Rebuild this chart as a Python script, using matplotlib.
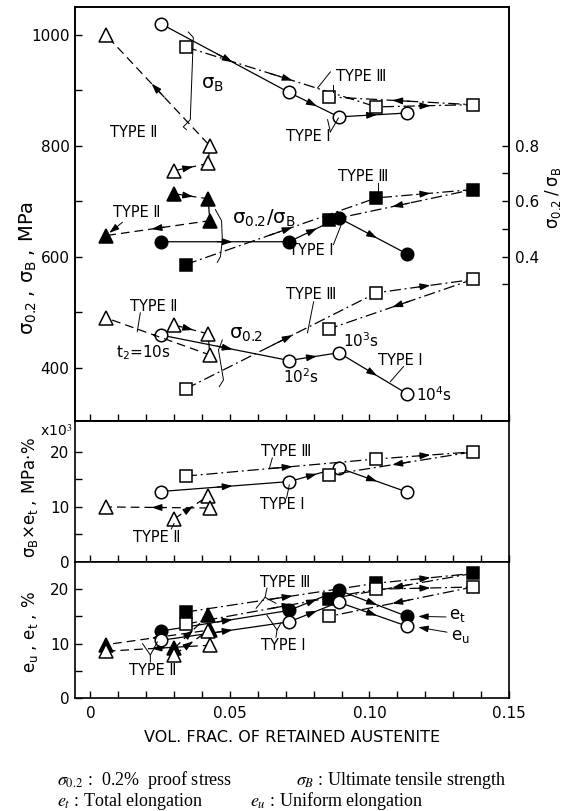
import numpy as np
import matplotlib
matplotlib.use('Agg')
import matplotlib.pyplot as plt

plt.rcParams['font.family'] = ['DejaVu Sans']
plt.rcParams['mathtext.fontset'] = 'stix'

# vol. frac. of retained austenite, points in order of holding time t2 = 10, 1e2, 1e3, 1e4 s
x_type1 = [0.0252, 0.0712, 0.0890, 0.1135]
x_type2 = [0.0300, 0.0422, 0.0428, 0.0055]
x_type3 = [0.0342, 0.1025, 0.1370, 0.0855]

# ultimate tensile strength, MPa
sb_type1 = [1020, 896, 852, 859]
sb_type2 = [755, 768, 800, 1000]
sb_type3 = [978, 870, 874, 888]

# 0.2% proof stress, MPa
s02_type1 = [459, 413, 427, 353]
s02_type2 = [477, 461, 423, 490]
s02_type3 = [362, 535, 559, 470]

# yield ratio
ratio_type1 = [0.454, 0.454, 0.54, 0.41]
ratio_type2 = [0.627, 0.609, 0.53, 0.476]
ratio_type3 = [0.372, 0.612, 0.642, 0.532]

# sigma_B x e_t, x10^3 MPa.%
sbet_type1 = [12.8, 14.6, 17.1, 12.7]
sbet_type2 = [7.8, 12.0, 9.8, 10.0]
sbet_type3 = [15.6, 18.7, 20.0, 15.8]

# total / uniform elongation, %
et_type1 = [12.3, 16.1, 19.8, 15.0]
et_type2 = [9.1, 15.2, 12.5, 9.8]
et_type3 = [15.8, 21.1, 22.9, 18.2]
eu_type1 = [10.6, 14.0, 17.6, 13.2]
eu_type2 = [7.9, 12.4, 9.7, 8.6]
eu_type3 = [13.6, 20.0, 20.4, 15.0]

ls1 = '-'
ls2 = (0, (7, 4))
ls3 = (0, (9, 3, 1.5, 3))

fig = plt.figure(figsize=(5.65, 8.11), dpi=100)
L, W = 75 / 565, 434 / 565
ax1 = fig.add_axes([L, 1 - 421 / 811, W, 414 / 811])
ax2 = fig.add_axes([L, 1 - 562 / 811, W, 141 / 811])
ax3 = fig.add_axes([L, 1 - 698 / 811, W, 136 / 811])

ylo, yhi = 304, 1050
ax1.set_ylim(ylo, yhi)
ax2.set_ylim(0, 25.6)
ax3.set_ylim(0, 25)
ax1r = ax1.twinx()
ax1r.set_ylim(0.4 + (ylo - 600) / 500, 0.4 + (yhi - 600) / 500)

for ax in (ax1, ax2, ax3, ax1r):
    ax.set_xlim(-0.0055, 0.15)
    for s in ax.spines.values():
        s.set_linewidth(1.2)
    ax.tick_params(direction='in', length=5, width=1, labelsize=11, pad=4)

for ax in (ax1, ax2, ax3):
    ax.set_xticks(np.arange(0, 0.151, 0.01))
    ax.tick_params(axis='x', labelbottom=False, top=False)
ax3.tick_params(axis='x', labelbottom=True, pad=6)
ax3.set_xticklabels(['0', '', '', '', '', '0.05', '', '', '', '', '0.10', '', '', '', '', '0.15'])

ax1.set_yticks(np.arange(400, 1001, 100))
ax1.set_yticklabels(['400', '', '600', '', '800', '', '1000'])
ax1r.set_yticks(np.arange(0.3, 0.81, 0.1))
ax1r.set_yticklabels(['', '0.4', '', '0.6', '', '0.8'])
for ax in (ax2, ax3):
    ax.set_yticks([0, 5, 10, 15, 20])
    ax.set_yticklabels(['0', '', '10', '', '20'])


def series(ax, x, y, ls, marker, filled, ms=9):
    ax.plot(x, y, ls=ls, color='k', lw=0.9, marker=marker, ms=ms,
            mfc='k' if filled else 'white', mec='k', mew=1.1, zorder=3)
    tr = ax.transData
    for i in range(len(x) - 1):
        p0 = np.array([x[i], y[i]])
        p1 = np.array([x[i + 1], y[i + 1]])
        d = tr.transform(p1) - tr.transform(p0)
        if np.hypot(*d) < 30:
            continue
        ax.annotate('', xy=p0 + 0.56 * (p1 - p0), xytext=p0 + 0.44 * (p1 - p0),
                    arrowprops=dict(arrowstyle='-|>,head_length=0.6,head_width=0.2',
                                    color='k', lw=0.9, shrinkA=0, shrinkB=0),
                    zorder=2)


# panel 1
series(ax1, x_type1, sb_type1, ls1, 'o', False)
series(ax1, x_type2, sb_type2, ls2, '^', False, 10)
series(ax1, x_type3, sb_type3, ls3, 's', False, 8)
series(ax1, x_type1, s02_type1, ls1, 'o', False)
series(ax1, x_type2, s02_type2, ls2, '^', False, 10)
series(ax1, x_type3, s02_type3, ls3, 's', False, 8)
series(ax1r, x_type1, ratio_type1, ls1, 'o', True)
series(ax1r, x_type2, ratio_type2, ls2, '^', True, 10)
series(ax1r, x_type3, ratio_type3, ls3, 's', True, 8)

# panel 2
series(ax2, x_type1, sbet_type1, ls1, 'o', False)
series(ax2, x_type2, sbet_type2, ls2, '^', False, 10)
series(ax2, x_type3, sbet_type3, ls3, 's', False, 8)

# panel 3
series(ax3, x_type1, et_type1, ls1, 'o', True)
series(ax3, x_type2, et_type2, ls2, '^', True, 10)
series(ax3, x_type3, et_type3, ls3, 's', True, 8)
series(ax3, x_type1, eu_type1, ls1, 'o', False)
series(ax3, x_type2, eu_type2, ls2, '^', False, 10)
series(ax3, x_type3, eu_type3, ls3, 's', False, 8)


def lab(ax, s, x, y, fs=10.5, ha='center'):
    ax.text(x, y, s, fontsize=fs, ha=ha, va='center', zorder=5)


def lead(ax, xs, ys, arrow=False):
    if arrow:
        ax.annotate('', xy=(xs[-1], ys[-1]), xytext=(xs[0], ys[0]),
                    arrowprops=dict(arrowstyle='-|>,head_length=0.6,head_width=0.2',
                                    color='k', lw=0.7, shrinkA=0, shrinkB=0))
    else:
        ax.plot(xs, ys, color='k', lw=0.7, zorder=4)


t1, t2, t3 = 'TYPE \u2160', 'TYPE \u2161', 'TYPE \u2162'

lab(ax1, r'$\mathregular{σ_B}$', 0.0437, 910, 14)
lead(ax1, [0.0351, 0.0369, 0.0358, 0.0333, 0.0344], [1005, 995, 847, 834, 829])
lab(ax1, t2, 0.0154, 823)
lab(ax1, t3, 0.0971, 924)
lead(ax1, [0.0860, 0.0814], [933, 904])
lead(ax1, [0.0868, 0.0868], [910, 896])
lab(ax1, t1, 0.0781, 816)
lead(ax1, [0.0860, 0.0889], [825, 850])
lead(ax1, [0.0860, 0.0850], [825, 847])
lab(ax1, t2, 0.0168, 679)
lead(ax1, [0.0115, 0.0068], [662, 643], arrow=True)
lab(ax1, r'$\mathregular{σ_{0.2}/σ_B}$', 0.062, 670, 14)
lead(ax1, [0.0448, 0.0470, 0.0473, 0.0466, 0.0455], [685, 665, 630, 600, 590])
lab(ax1, t3, 0.0978, 744)
lead(ax1, [0.1029, 0.1029], [733, 713])
lab(ax1, t1, 0.0792, 611)
lead(ax1, [0.0871, 0.0903], [622, 663])
lab(ax1, t2, 0.0226, 510)
lead(ax1, [0.0179, 0.0168], [499, 465])
lab(ax1, r'$\mathregular{t_2}$=10s', 0.019, 427, 11)
lab(ax1, r'$\mathregular{σ_{0.2}}$', 0.0556, 459, 14)
lead(ax1, [0.0473, 0.0459, 0.0477, 0.0462], [450, 432, 378, 366])
lab(ax1, t3, 0.0792, 532)
lead(ax1, [0.080, 0.0778], [519, 463])
lab(ax1, r'$\mathregular{10^2s}$', 0.0756, 384, 11)
lab(ax1, r'$\mathregular{10^3s}$', 0.0971, 449, 11)
lab(ax1, t1, 0.1111, 413)
lead(ax1, [0.1122, 0.1075], [402, 375])
lab(ax1, r'$\mathregular{10^4s}$', 0.1165, 351, 11, ha='left')

lab(ax2, t3, 0.0703, 20.0)
lead(ax2, [0.0652, 0.0642], [18.9, 17.1])
lab(ax2, t1, 0.0688, 10.4)
lead(ax2, [0.0703, 0.0713], [11.6, 14.0])
lab(ax2, t2, 0.0237, 4.4)
lead(ax2, [0.029, 0.030], [6.0, 7.0])

lab(ax3, t3, 0.0697, 21.3)
lead(ax3, [0.0633, 0.0626, 0.0594], [20.2, 18.5, 16.5])
lead(ax3, [0.0626, 0.0665], [18.5, 17.4])
lab(ax3, t1, 0.0693, 9.7)
lead(ax3, [0.0665, 0.0669, 0.0633], [11.2, 12.5, 15.2])
lead(ax3, [0.0669, 0.0683], [12.5, 13.8])
lab(ax3, t2, 0.0224, 5.0)
lead(ax3, [0.0215, 0.0215, 0.0187], [6.6, 7.9, 10.0])
lead(ax3, [0.0215, 0.0240], [7.9, 10.3])
lab(ax3, r'$\mathregular{e_t}$', 0.1285, 15.2, 12, ha='left')
lead(ax3, [0.1274, 0.1175], [14.9, 15.0], arrow=True)
lab(ax3, r'$\mathregular{e_u}$', 0.1292, 11.4, 12, ha='left')
lead(ax3, [0.1278, 0.1175], [12.1, 13.0], arrow=True)

ax3.set_xlabel('VOL. FRAC. OF RETAINED AUSTENITE', fontsize=11.5, labelpad=6)

fig.text(28 / 565, 1 - 268 / 811, r'$\mathregular{σ_{0.2}\ ,\ σ_B\ ,\ MPa}$',
         rotation=90, ha='center', va='center', fontsize=14)
fig.text(553 / 565, 1 - 198 / 811, r'$\mathregular{σ_{0.2}\ /\ σ_B}$',
         rotation=90, ha='center', va='center', fontsize=12)
fig.text(30 / 565, 1 - 498 / 811, r'$\mathregular{σ_B×e_t\ ,\ MPa·\%}$',
         rotation=90, ha='center', va='center', fontsize=12)
fig.text(56 / 565, 1 - 431 / 811, r'x10$^3$', ha='center', va='center', fontsize=10)
fig.text(30 / 565, 1 - 632 / 811, r'$\mathregular{e_u\ ,\ e_t\ ,\ \%}$',
         rotation=90, ha='center', va='center', fontsize=12)

# footnote
foot = dict(family='Liberation Serif', fontsize=13, va='baseline')
fig.text(57 / 565, 1 - 785 / 811, r'$\sigma_{0.2}$ :  0.2%  proof stress', **foot)
fig.text(296 / 565, 1 - 785 / 811, r'$\sigma_B$ : Ultimate tensile strength', **foot)
fig.text(57 / 565, 1 - 806 / 811, r'$e_t$ : Total elongation', **foot)
fig.text(250 / 565, 1 - 806 / 811, r'$e_u$ : Uniform elongation', **foot)

fig.savefig('out.png', dpi=100)
